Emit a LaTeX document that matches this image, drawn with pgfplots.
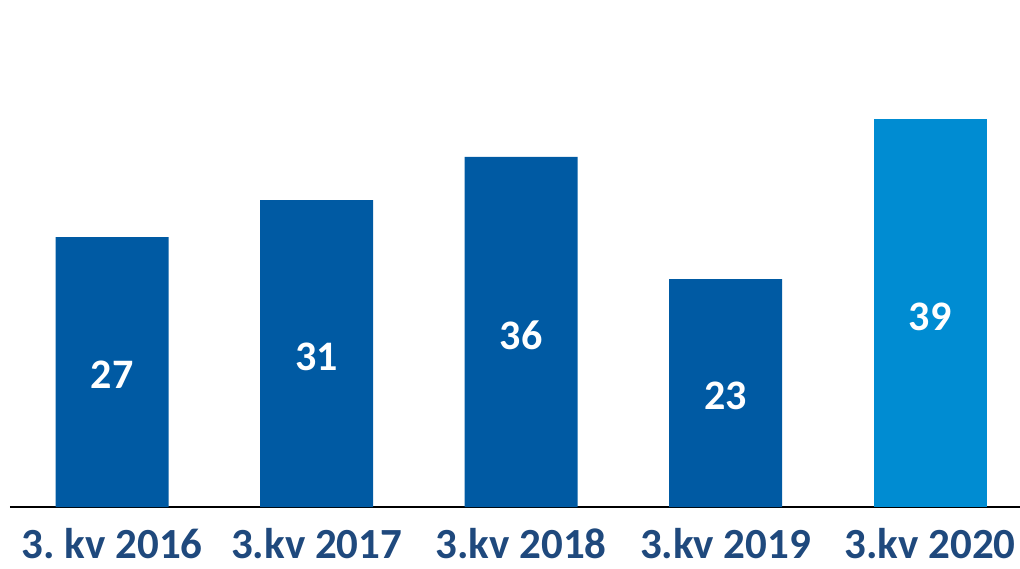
\documentclass[border=0pt]{standalone}
\usepackage{pgfplots}
\pgfplotsset{compat=1.18}
\usepackage{fontspec}
\setmainfont{Carlito}
\definecolor{barA}{HTML}{005AA3}
\definecolor{barB}{HTML}{008CD2}
\definecolor{lab}{HTML}{1F497D}
\begin{document}
\frenchspacing
\begin{tikzpicture}
\path[use as bounding box] (0pt,0pt) rectangle (510pt,284pt);
\begin{axis}[
  at={(5pt,30.5pt)}, anchor=south west,
  scale only axis, width=505pt, height=250pt,
  xmin=-0.5, xmax=4.44, ymin=0, ymax=50,
  axis x line*=bottom, axis y line=none,
  x axis line style={line width=1pt, -},
  xtick={0,1,2,3,4}, major tick length=0pt,
  xticklabels={3.\ kv 2016,3.kv 2017,3.kv 2018,3.kv 2019,3.kv 2020},
  xticklabel style={font=\fontsize{21.5}{26}\selectfont\bfseries, text=lab, yshift=-7pt},
  ybar, bar width=56.5pt,
  clip=false,
]
\addplot[fill=barA, draw=none, bar shift=0pt] coordinates {(0,27) (1,30.7) (2,35) (3,22.8)};
\addplot[fill=barB, draw=none, bar shift=0pt] coordinates {(4,38.8)};
\addplot[draw=none, mark=none, sharp plot, nodes near coords, point meta=explicit symbolic,
  every node near coord/.style={anchor=center, text=white, font=\fontsize{21}{25}\selectfont\bfseries}]
  coordinates {(0,13.2)[27] (1,15)[31] (2,17.2)[36] (3,11.1)[23] (4,19)[39]};
\end{axis}
\end{tikzpicture}
\end{document}
